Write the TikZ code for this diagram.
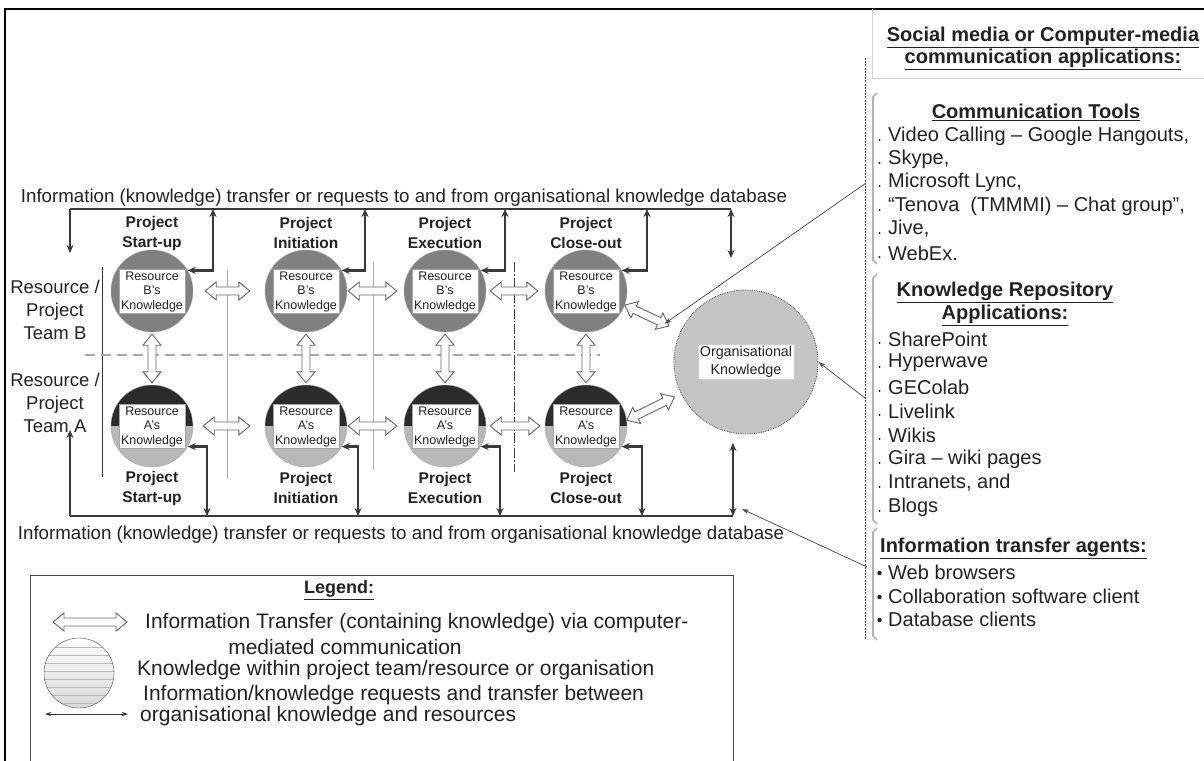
\documentclass[tikz,border=0pt]{standalone}
\usepackage{fontspec}
\setmainfont{Liberation Sans}
\usetikzlibrary{arrows.meta,calc}
\newcommand\fs[2]{\fontsize{#1}{#2}\selectfont}
% hollow double-headed "fat" arrow from #1 to #2
\newcommand\fatlink[2]{%
  \draw[fatarrow] let \p1=(#1), \p2=(#2), \n2={atan2(\y2-\y1,\x2-\x1)} in
    (\p1)
    -- ($(\p1)+(\n2:11pt)+(\n2+90:9pt)$)
    -- ($(\p1)+(\n2:11pt)+(\n2+90:4pt)$)
    -- ($(\p2)+(\n2:-11pt)+(\n2+90:4pt)$)
    -- ($(\p2)+(\n2:-11pt)+(\n2+90:9pt)$)
    -- (\p2)
    -- ($(\p2)+(\n2:-11pt)+(\n2-90:9pt)$)
    -- ($(\p2)+(\n2:-11pt)+(\n2-90:4pt)$)
    -- ($(\p1)+(\n2:11pt)+(\n2-90:4pt)$)
    -- ($(\p1)+(\n2:11pt)+(\n2-90:9pt)$)
    -- cycle;}
\definecolor{dkc}{HTML}{3A3A3A}
\definecolor{bfill}{HTML}{808080}
\definecolor{atop}{HTML}{2B2B2B}
\definecolor{abot}{HTML}{B8B8B8}
\definecolor{ofill}{HTML}{C4C4C4}
\definecolor{txt}{HTML}{222222}
\begin{document}
\begin{tikzpicture}[x=1pt,y=-1pt,
  dkline/.style={draw=dkc, line width=2.6pt},
  dkarr/.style={dkline, {Stealth[length=8pt,width=7pt]}-{Stealth[length=8pt,width=7pt]}},
  dkone/.style={dkline, -{Stealth[length=8pt,width=7pt]}},
  fatarrow/.style={draw=black!60, fill=white, line width=0.9pt, line join=miter},
  bcirc/.style={circle, minimum size=82pt, inner sep=0pt, fill=bfill, draw=gray!70},
  acirc/.style={circle, minimum size=82pt, inner sep=0pt, fill=abot, draw=gray!70,
     path picture={\fill[atop] (path picture bounding box.north west) rectangle (path picture bounding box.east);}},
  kbox/.style={rectangle, fill=white, draw=gray!70, inner sep=2pt, align=center, font=\fs{12.5}{14.5}, text=txt},
  phase/.style={align=center, font=\bfseries\fs{15.5}{20}, text=txt},
  team/.style={align=center, font=\fs{18.5}{23}, text=txt},
  item/.style={anchor=west, font=\fs{20}{24}, text=txt, inner sep=0pt},
  litem/.style={anchor=west, font=\fs{21}{24}, text=txt, inner sep=0pt},
  head/.style={align=center, font=\bfseries\fs{20}{23}, text=txt, inner sep=0pt},
  caption/.style={font=\fs{18.7}{22}, text=txt, inner sep=0pt},
  sep/.style={draw=gray!65, line width=1pt},
  thinc/.style={draw=gray!55!black, line width=0.7pt, -{Stealth[length=7pt,width=4.5pt]}},
  bracket/.style={draw=gray!60, line width=1.6pt}
]
\useasboundingbox (0,0) rectangle (1204,760);
\clip (0,0) rectangle (1204,760);
\fill[white] (0,0) rectangle (1204,760);

% page frame
\draw[black, line width=1.5pt] (5,762) -- (5,9) -- (1206,9);

% separators
\draw[sep, draw=gray!40!black] (102,267) -- (102,477);
\draw[sep] (227,270) -- (227,479);
\draw[sep] (373,262) -- (373,470);
\draw[draw=gray!50!black, line width=0.9pt, dash pattern=on 10pt off 2pt on 1.5pt off 2pt] (514,262) -- (514,472);
\draw[draw=gray!65, line width=1.3pt, dash pattern=on 10pt off 6pt] (85,355) -- (600,355);

% circles
\foreach \i/\x/\lab in {1/152/Start-up, 2/306/Initiation, 3/445/Execution, 4/586/Close-out} {
  \node[bcirc] (sB\i) at (\x,291) {};
  \node[kbox] (kB\i) at (\x,291.5) {Resource\\B’s\\Knowledge};
  \node[acirc] (sA\i) at (\x,426) {};
  \node[kbox] (kA\i) at (\x,426.5) {Resource\\A’s\\Knowledge};
  \node[phase] (pB\i) at (\x,233) {Project\\\lab};
  \node[phase] (pA\i) at (\x,488) {Project\\\lab};
}

% organisational knowledge
\node[circle, minimum size=144pt, inner sep=0pt, fill=ofill, draw=gray!60!black, densely dotted, line width=0.8pt] (org) at (746,362) {};
\node[rectangle, fill=white, draw=gray!40, inner sep=2pt, align=center, font=\fs{14.3}{18}, text=txt] (orgt) at (746,362) {Organisational\\Knowledge};

% team labels
\node[team] (teamB) at (55,310) {Resource /\\Project\\Team B};
\node[team] (teamA) at (55,403) {Resource /\\Project\\Team A};

% top knowledge-database line
\coordinate (tL) at (70,209);
\coordinate (tR) at (731,209);
\coordinate (tLd) at (70,253);
\coordinate (tRd) at (731,258);
\draw[dkline] (tL) -- (tR);
\draw[dkone] (tL) -- (tLd);
\draw[dkarr] (tR) -- (tRd);
\foreach \i/\xv in {1/213, 2/365, 3/505, 4/647} {
  \coordinate (tB\i) at (\xv,209);
  \draw[dkarr] (sB\i.30) -| (tB\i);
}

% bottom knowledge-database line
\coordinate (bL) at (70,516);
\coordinate (bR) at (733,516);
\coordinate (bLu) at (70,430);
\coordinate (bRu) at (733,443);
\draw[dkline] (bL) -- (bR);
\draw[dkone] (bL) -- (bLu);
\draw[dkarr] (bR) -- (bRu);
\foreach \i/\xv in {1/207, 2/358, 3/500, 4/642} {
  \coordinate (bA\i) at (\xv,516);
  \draw[dkarr] (sA\i.-30) -| (bA\i);
}

% fat information-transfer arrows
\fatlink{$(sB1.east)+(12,0)$}{$(sB2.west)+(-15,0)$}
\fatlink{$(sB2.east)+(1,0)$}{$(sB3.west)+(-7,0)$}
\fatlink{$(sB3.east)+(4,0)$}{$(sB4.west)+(-7,0)$}
\fatlink{$(sA1.east)+(10,0)$}{$(sA2.west)+(-15,0)$}
\fatlink{$(sA2.east)+(1,0)$}{$(sA3.west)+(-7,0)$}
\fatlink{$(sA3.east)+(4,0)$}{$(sA4.west)+(-5,0)$}
\foreach \i in {1,2,3,4} {
  \fatlink{$(sB\i.south)+(0,2)$}{$(sA\i.north)+(0,-2)$}
}
\fatlink{sB4.-20}{$(sB4.-20)!49pt!(org.center)$}
\fatlink{sA4.8}{$(sA4.8)!53pt!(org.center)$}

% database captions
\node[caption] (captop) at (404,198) {Information (knowledge) transfer or requests to and from organisational knowledge database};
\node[caption] (capbot) at (401,535) {Information (knowledge) transfer or requests to and from organisational knowledge database};

% ---------------- right panel ----------------
\draw[draw=gray!35, line width=0.8pt] (872,9) -- (872,78) -- (1206,78);
\node[head] (smh) at (1043,48) {\underline{Social media or Computer-media}\\[-1pt]\underline{communication applications:}};
\draw[draw=gray!50!black, line width=0.8pt, dash pattern=on 2pt off 1.2pt] (865,58) -- (865,640);

\draw[bracket] (877,93) -- (873,97) -- (873,260) -- (877,264);
\draw[bracket] (877,274) -- (873,278) -- (873,520) -- (877,524);
\draw[bracket] (877,528) -- (873,532) -- (873,636) -- (877,640);

\node[head] (cth) at (1036,112) {\underline{Communication Tools}};
\foreach \k/\yy/\t in {1/136/{Video Calling – Google Hangouts,}, 2/159/{Skype,}, 3/182/{Microsoft Lync,}, 4/206/{“Tenova\ \ (TMMMI) – Chat group”,}, 5/229/{Jive,}, 6/253/{WebEx.}} {
  \node[item] (ct\k) at (888,\yy) {\t};
  \fill[txt] (879.5,\yy+4) circle (1.1pt);
}
\node[head] (krh) at (1005,304) {\underline{Knowledge Repository}\\[0pt]\underline{Applications:}};
\foreach \k/\yy/\t in {1/339/SharePoint, 2/363/Hyperwave, 3/387/GEColab, 4/411/Livelink, 5/435/Wikis, 6/459/{Gira – wiki pages}, 7/483/{Intranets, and}, 8/507/Blogs} {
  \node[item] (kr\k) at (888,\yy) {\t};
  \fill[txt] (879.5,\yy+4) circle (1.1pt);
}
\node[head, anchor=west] (ith) at (880,548) {\underline{Information transfer agents:}};
\foreach \k/\yy/\t in {1/572/{Web browsers}, 2/596/{Collaboration software client}, 3/619/{Database clients}} {
  \node[item] (it\k) at (888,\yy) {\t};
  \fill[txt] (879.5,\yy+1) circle (2.2pt);
}

% connectors from the application groups
\coordinate (g1) at (866,183);
\coordinate (g2) at (865,398);
\coordinate (g3) at (867,567);
\draw[thinc] (g1) -- ($(sB4.-20)!44pt!(org.center)$);
\draw[thinc] (g2) -- (org.east);
\draw[thinc] (g3) -- ($(bR)+(9,-7)$);

% ---------------- legend ----------------
\draw[draw=gray!60!black, line width=1pt] (30,790) -- (30,575) -- (733,575) -- (733,790);
\node[font=\bfseries\fs{18}{22}, text=txt] (legt) at (339,590) {\underline{Legend:}};
\coordinate (la1) at (53,622);
\coordinate (la2) at (127,622);
\fatlink{la1}{la2}
\node[circle, minimum size=70pt, inner sep=0pt, draw=gray!60!black, top color=white, bottom color=gray!30,
  path picture={\foreach \k in {-26,-18,...,30} \draw[gray!55, line width=0.6pt] ($(path picture bounding box.west)+(0,\k)$) -- ++(80,0);}] (lgc) at (79,673) {};
\coordinate (lt1) at (45,714);
\coordinate (lt2) at (128,714);
\draw[draw=black!80, line width=0.8pt, {Stealth[length=6pt,width=4pt]}-{Stealth[length=6pt,width=4pt]}] (lt1) -- (lt2);
\node[litem] (lg1) at (145,623) {Information Transfer (containing knowledge) via computer-};
\node[font=\fs{21}{24}, text=txt, inner sep=0pt] (lg1b) at (345,647) {mediated communication};
\node[litem] (lg2) at (137,670) {Knowledge within project team/resource or organisation};
\node[litem] (lg3) at (143,695) {Information/knowledge requests and transfer between};
\node[litem] (lg3b) at (140,716) {organisational knowledge and resources};
\end{tikzpicture}
\end{document}
